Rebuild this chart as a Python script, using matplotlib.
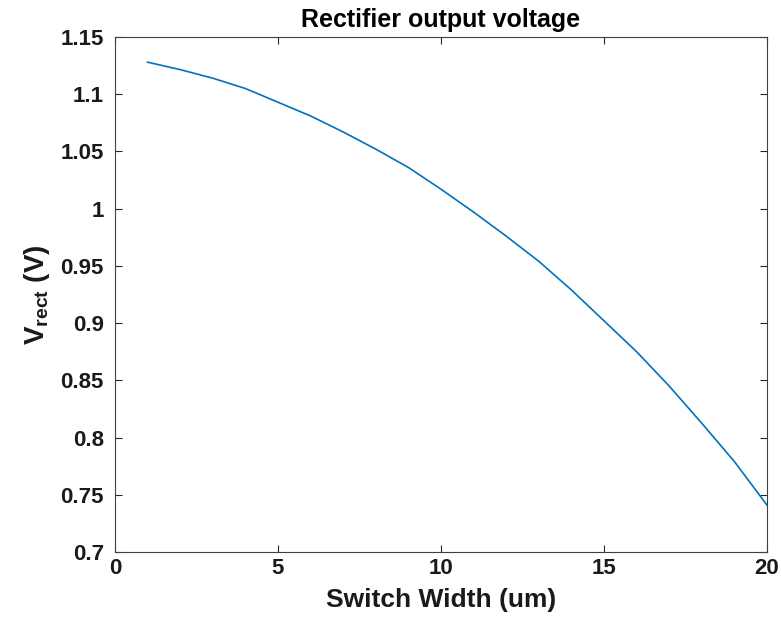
import matplotlib
matplotlib.use('Agg')
from matplotlib import pyplot as plt

width_um = [1, 2, 3, 4, 5, 6, 7, 8, 9, 10, 11, 12, 13, 14, 15, 16, 17, 18, 19, 20]
v_rect = [1.128, 1.1215, 1.114, 1.105, 1.093, 1.081, 1.067, 1.052, 1.036, 1.017,
          0.997, 0.976, 0.954, 0.929, 0.902, 0.875, 0.845, 0.8125, 0.779, 0.741]

xticks = [0, 5, 10, 15, 20]
yticks = [0.7, 0.75, 0.8, 0.85, 0.9, 0.95, 1.0, 1.05, 1.1, 1.15]
yticklabels = ['0.7', '0.75', '0.8', '0.85', '0.9', '0.95', '1', '1.05', '1.1', '1.15']

plt.rcParams['font.family'] = ['Liberation Sans', 'DejaVu Sans']
plt.rcParams['font.weight'] = 'bold'
plt.rcParams['mathtext.fontset'] = 'custom'
plt.rcParams['mathtext.rm'] = 'Liberation Sans:bold'
plt.rcParams['mathtext.it'] = 'Liberation Sans:bold'
plt.rcParams['mathtext.bf'] = 'Liberation Sans:bold'

fig = plt.figure(figsize=(7.81, 6.19), dpi=100)
ax = fig.add_axes([115 / 781, 1 - 552 / 619, (767 - 115) / 781, (552 - 37) / 619])

ax.plot(width_um, v_rect, c='#0072BD', lw=1.2)

ax.set_xlim(0, 20)
ax.set_ylim(0.7, 1.15)
ax.set_xticks(xticks)
ax.set_yticks(yticks)
ax.set_yticklabels(yticklabels)
ax.tick_params(direction='in', top=True, right=True, length=5, width=0.8,
               colors='#262626', labelsize=16, labelcolor='#1a1a1a')
for lbl in ax.get_xticklabels() + ax.get_yticklabels():
    lbl.set_fontweight('bold')
for s in ax.spines.values():
    s.set_color('#404040')
    s.set_linewidth(0.8)
ax.tick_params(axis='x', pad=4)
ax.tick_params(axis='y', pad=8)

ax.set_xlabel('Switch Width (um)', fontsize=19, fontweight='bold', color='#1a1a1a', labelpad=7)
ax.set_ylabel(r'$\mathrm{V_{rect}}$ (V)', fontsize=20, fontweight='bold', color='#1a1a1a', labelpad=6)
ax.set_title('Rectifier output voltage', fontsize=18, fontweight='bold', pad=7)

fig.savefig('out.png', dpi=100)
